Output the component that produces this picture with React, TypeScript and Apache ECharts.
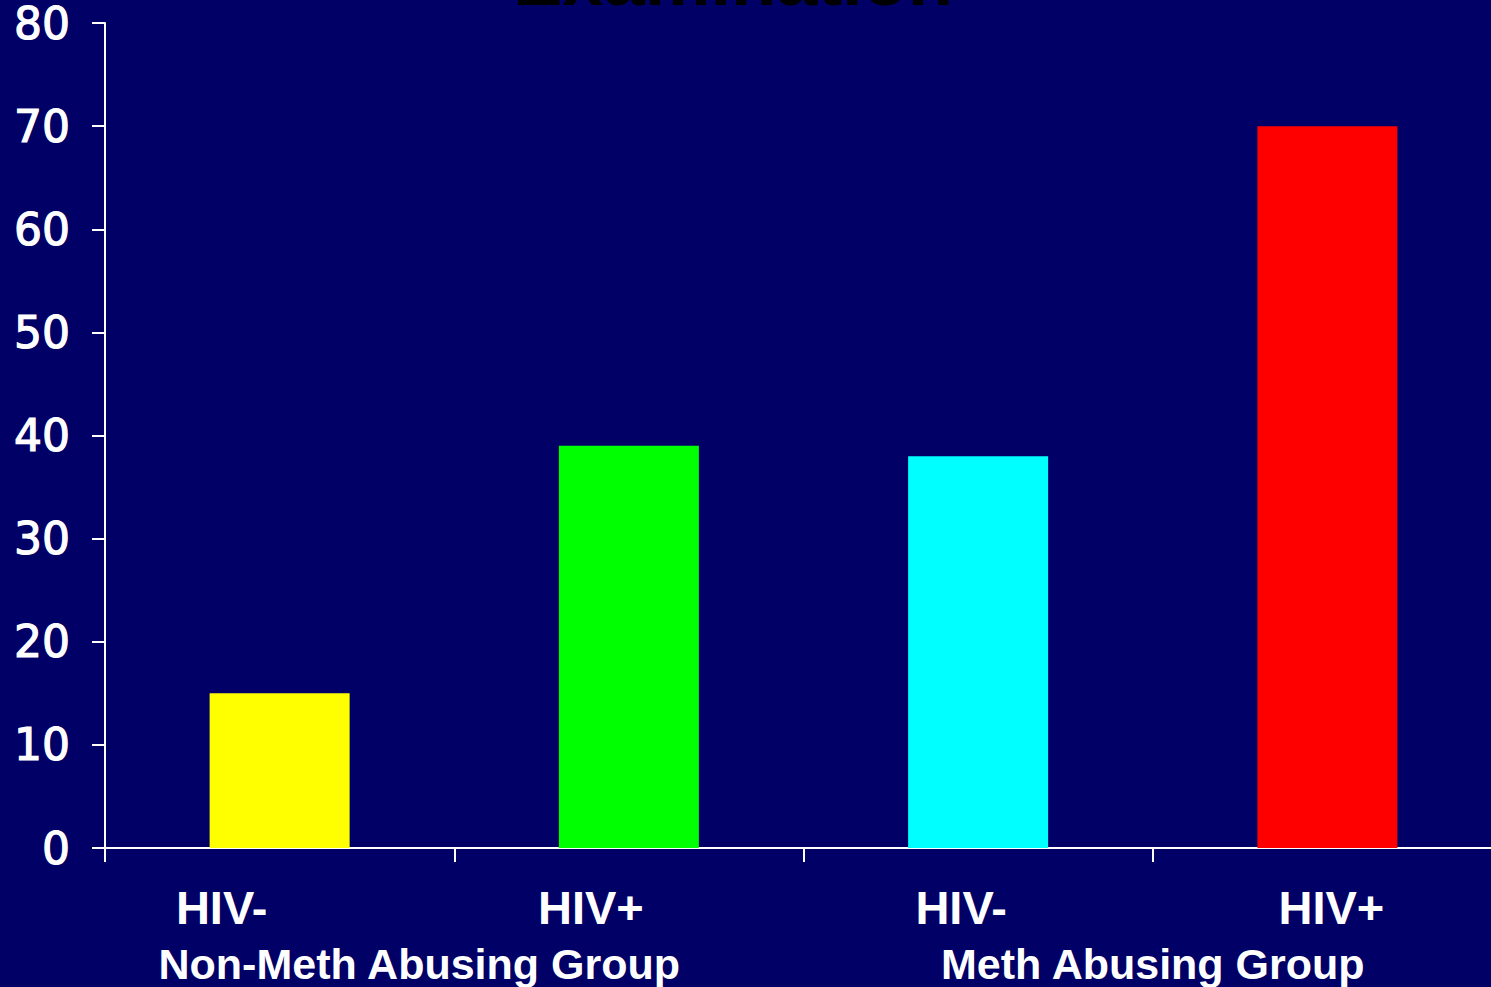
import React, { useEffect, useRef } from "react";
import * as echarts from "echarts";

const categories = ["HIV-", "HIV+", "HIV-", "HIV+"];
const values = [15, 39, 38, 70];
const barColors = ["#FFFF00", "#00FF00", "#00FFFF", "#FF0000"];
const groupLabels = ["Non-Meth Abusing Group", "Meth Abusing Group"];
const yTicks = { min: 0, max: 80, interval: 10 };
const titleText = "Examination";

// label offsets (padding) to place labels as in the source slide
const catPadding = [
  [0, 116, 0, 0],
  [0, 76, 0, 0],
  [0, 34, 0, 0],
  [0, 0, 0, 8],
];
const groupPadding = [
  [0, 70, 0, 0],
  [0, 0, 0, 0],
];

export default function App() {
  const ref = useRef<HTMLDivElement>(null);
  useEffect(() => {
    if (!ref.current) return;
    const chart = echarts.init(ref.current, undefined, { renderer: "svg" });
    chart.setOption({
      animation: false,
      backgroundColor: "#000066",
      grid: { left: 105, top: 23, width: 1397, height: 825, containLabel: false },
      graphic: [
        {
          type: "text",
          x: 733,
          y: -58,
          style: {
            text: titleText,
            fill: "#000000",
            align: "center",
            font: "bold 74px 'Liberation Sans', Arial, sans-serif",
          },
        },
      ],
      xAxis: [
        {
          type: "category",
          data: categories.map((c, i) => ({
            value: c,
            textStyle: { padding: catPadding[i] },
          })),
          boundaryGap: true,
          axisLine: { show: true, lineStyle: { color: "#FFFFFF", width: 2 } },
          axisTick: { show: true, length: 14, alignWithLabel: false, lineStyle: { color: "#FFFFFF", width: 2 } },
          axisLabel: {
            color: "#FFFFFF",
            fontFamily: "'Liberation Sans', Arial, sans-serif",
            fontWeight: "bold",
            fontSize: 47,
            margin: 36,
            interval: 0,
          },
          splitLine: { show: false },
        },
        {
          type: "category",
          position: "bottom",
          data: groupLabels.map((c, i) => ({
            value: c,
            textStyle: { padding: groupPadding[i] },
          })),
          boundaryGap: true,
          axisLine: { show: false },
          axisTick: { show: false },
          axisLabel: {
            color: "#FFFFFF",
            fontFamily: "'Liberation Sans', Arial, sans-serif",
            fontWeight: "bold",
            fontSize: 43,
            margin: 94,
            interval: 0,
          },
          splitLine: { show: false },
        },
      ],
      yAxis: {
        type: "value",
        min: yTicks.min,
        max: yTicks.max,
        interval: yTicks.interval,
        axisLine: { show: true, lineStyle: { color: "#FFFFFF", width: 2 } },
        axisTick: { show: true, length: 13, lineStyle: { color: "#FFFFFF", width: 2 } },
        axisLabel: {
          color: "#FFFFFF",
          fontFamily: "'DejaVu Sans', Verdana, sans-serif",
          fontWeight: "normal",
          fontSize: 44,
          lineHeight: 36,
          margin: 35,
          padding: [8, 0, 0, 0],
          textBorderColor: "#FFFFFF",
          textBorderWidth: 1.2,
        },
        splitLine: { show: false },
      },
      series: [
        {
          type: "bar",
          xAxisIndex: 0,
          barWidth: 140,
          data: values.map((v, i) => ({ value: v, itemStyle: { color: barColors[i] } })),
        },
      ],
    });
    return () => chart.dispose();
  }, []);
  return (
    <div
      ref={ref}
      style={{ position: "fixed", left: 0, top: 0, width: 1520, height: 987 }}
    />
  );
}
